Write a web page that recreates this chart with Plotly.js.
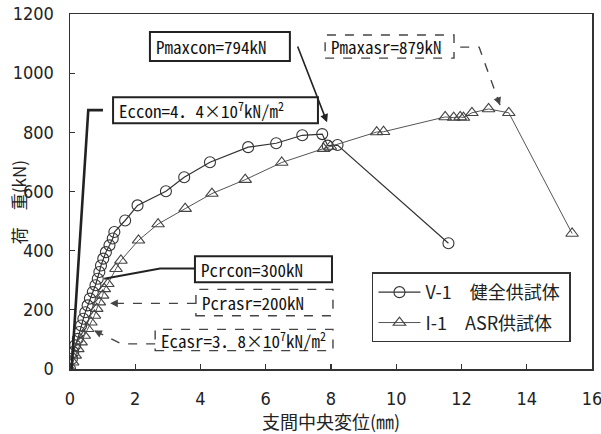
<!DOCTYPE html>
<html>
<head>
<meta charset="utf-8">
<script src="https://cdn.plot.ly/plotly-3.0.1.min.js"></script>
<style>
  html, body { margin: 0; padding: 0; background: #fff; }
  #chart { width: 601px; height: 434px; }
</style>
</head>
<body>
<div id="chart"></div>
<script>
// Load–deflection curves: mid-span deflection (mm) vs. load (kN)
const v1Name = 'V-1\u3000健全供試体\u00a0';
const v1X = [0, 0.06, 0.10, 0.16, 0.24, 0.29, 0.34, 0.41, 0.47, 0.54, 0.61, 0.70, 0.78, 0.85, 0.90, 0.95,
             1.02, 1.10, 1.21, 1.31, 1.36, 1.69, 2.07, 2.94, 3.50, 4.29, 5.46, 6.32, 7.12, 7.73, 7.90, 8.20, 11.6];
const v1Y = [0, 35, 57, 80, 102, 125, 147, 170, 192, 215, 238, 260, 283, 305, 328, 350,
             373, 395, 418, 441, 463, 502, 553, 601, 648, 699, 750, 763, 790, 794, 755, 757, 425];

const i1Name = 'I-1\u3000ASR供試体';
const i1X = [0, 0.08, 0.16, 0.24, 0.34, 0.44, 0.54, 0.64, 0.75, 0.82, 0.90, 1.00, 1.05, 1.16, 1.41, 1.56,
             2.10, 2.70, 3.53, 4.35, 5.37, 6.49, 7.77, 7.98, 9.40, 9.61, 11.50, 11.76, 11.96, 12.06,
             12.32, 12.83, 13.45, 15.39];
const i1Y = [0, 23, 46, 68, 91, 113, 136, 158, 181, 204, 226, 249, 271, 288, 339, 367,
             435, 490, 542, 593, 640, 698, 745, 752, 801, 802, 852, 850, 852, 850,
             866, 879, 866, 458];

const xTicks = [0, 2, 4, 6, 8, 10, 12, 14, 16];
const yTicks = [0, 200, 400, 600, 800, 1000, 1200];
const xTitle = '支間中央変位(㎜)\u3000\u3000';
const yTitle = '荷\u3000重(kN)';

// Callout boxes (data units) and their labels
const boxLabels = ['Pmaxcon=794kN', 'Eccon=4．4×10<sup>7</sup>kN/m<sup>2</sup>', 'Pcrcon=300kN',
                   'Pmaxasr=879kN', 'Pcrasr=200kN', 'Ecasr=3．8×10<sup>7</sup>kN/m<sup>2</sup>'];
const boxX0 = [2.45, 1.32, 3.83, 7.82, 3.86, 2.61];
const boxX1 = [6.74, 7.60, 8.03, 11.77, 8.06, 8.06];
const boxY0 = [1041, 831, 293, 1051, 180, 62];
const boxY1 = [1139, 919, 381, 1129, 269, 134];
const boxDash = ['solid', 'solid', 'solid', 'dash', 'dash', 'dash'];

// Leader lines from the boxes to the curves
const leaders = [
  { xs: [0.05, 0.56, 1.01], ys: [0, 875, 875], dash: 'solid', w: 2.6 },
  { xs: [1.05, 2.76, 3.83], ys: [305, 340, 340], dash: 'solid', w: 2 },
  { xs: [3.86, 1.23], ys: [222, 222], dash: 'dash', w: 1.4 },
  { xs: [2.61, 1.58, 0.74], ys: [85, 85, 130], dash: 'dash', w: 1.4 },
  { xs: [11.96, 12.54, 13.18], ys: [1088, 1088, 892], dash: 'dash', w: 1.4 }
];

const monoFont = "'Noto Sans Mono CJK JP', 'DejaVu Sans Mono', monospace";
const tickFont = "'Liberation Sans Narrow', 'DejaVu Sans Condensed', 'Liberation Sans', sans-serif";
const cjkFont = "'Noto Sans CJK JP', sans-serif";

const traces = [
  {
    x: v1X, y: v1Y, name: v1Name, type: 'scatter', mode: 'lines+markers',
    legendgroup: 'v1',
    line: { color: '#333', width: 1.2 },
    marker: { symbol: 'circle-open', size: 11, color: '#333', line: { width: 1.1 } }
  },
  {
    x: i1X, y: i1Y, name: i1Name, type: 'scatter', mode: 'lines+markers',
    legendgroup: 'i1',
    line: { color: '#555', width: 1 },
    marker: { symbol: 'triangle-up-open', size: 11, color: '#444', line: { width: 1.1 } }
  }
];

const shapes = [];
const annotations = [];

boxLabels.forEach((txt, i) => {
  const solid = boxDash[i] === 'solid';
  shapes.push({
    type: 'rect', xref: 'x', yref: 'y',
    x0: boxX0[i], x1: boxX1[i], y0: boxY0[i], y1: boxY1[i],
    fillcolor: '#fff',
    line: { color: solid ? '#222' : '#444', width: solid ? 2 : 1.4, dash: boxDash[i] }
  });
  annotations.push({
    xref: 'x', yref: 'y', xanchor: 'left', xshift: 4,
    x: boxX0[i], y: (boxY0[i] + boxY1[i]) / 2,
    text: txt, showarrow: false,
    font: { family: monoFont, size: 17, color: '#111' }
  });
});

leaders.forEach(l => {
  let d = 'M ' + l.xs[0] + ',' + l.ys[0];
  for (let k = 1; k < l.xs.length; k++) d += ' L ' + l.xs[k] + ',' + l.ys[k];
  shapes.push({
    type: 'path', xref: 'x', yref: 'y', path: d,
    line: { color: l.dash === 'solid' ? '#222' : '#444', width: l.w, dash: l.dash }
  });
});

// Arrowheads at the ends of the dashed leaders (short arrows, offsets in px)
function headAt(x, y, ax, ay) {
  annotations.push({
    xref: 'x', yref: 'y', x: x, y: y, ax: ax, ay: ay, text: '',
    showarrow: true, arrowhead: 2, arrowsize: 1.1, arrowwidth: 1.4, arrowcolor: '#444'
  });
}
headAt(1.23, 222, 9, 0);
headAt(0.74, 130, 8, 4);
headAt(13.18, 892, -3, -8);

// Solid arrow from the Pmaxcon box to the peak of V-1
annotations.push({
  xref: 'x', yref: 'y', axref: 'x', ayref: 'y',
  x: 7.88, y: 834, ax: 6.96, ay: 1095, text: '',
  showarrow: true, arrowhead: 2, arrowsize: 1, arrowwidth: 1.6, arrowcolor: '#222'
});

// Vertical load-axis title
annotations.push({
  xref: 'paper', yref: 'paper', x: -0.0996, y: 0.47,
  xanchor: 'center', yanchor: 'middle', textangle: -90,
  text: yTitle, showarrow: false,
  font: { family: cjkFont, size: 17, color: '#222' }
});

const axisCommon = {
  showgrid: false, zeroline: false,
  showline: true, mirror: true, linecolor: '#333', linewidth: 1.5,
  ticks: 'inside', ticklen: 5, tickwidth: 1.2, tickcolor: '#333',
  ticklabeloverflow: 'allow',
  tickfont: { family: tickFont, size: 18, color: '#222' }
};

const layout = {
  width: 601, height: 434,
  margin: { l: 70, r: 9, t: 14, b: 65 },
  paper_bgcolor: '#fff', plot_bgcolor: '#fff',
  showlegend: true,
  legend: {
    x: 0.5785, y: 0.272, xanchor: 'left', yanchor: 'top',
    bgcolor: '#fff', bordercolor: '#333', borderwidth: 1.5,
    font: { family: cjkFont, size: 18, color: '#222' },
    tracegroupgap: 4, itemwidth: 42
  },
  xaxis: Object.assign({}, axisCommon, {
    range: [0, 16], tickvals: xTicks, ticktext: xTicks.map(String),
    ticklabelstandoff: 13,
    title: { text: xTitle, font: { family: cjkFont, size: 18, color: '#222' }, standoff: 6 }
  }),
  yaxis: Object.assign({}, axisCommon, {
    range: [0, 1200], tickvals: yTicks, ticktext: yTicks.map(String),
    ticklabelstandoff: 11
  }),
  shapes: shapes,
  annotations: annotations
};

Plotly.newPlot('chart', traces, layout, { staticPlot: true, displayModeBar: false });
</script>
</body>
</html>
